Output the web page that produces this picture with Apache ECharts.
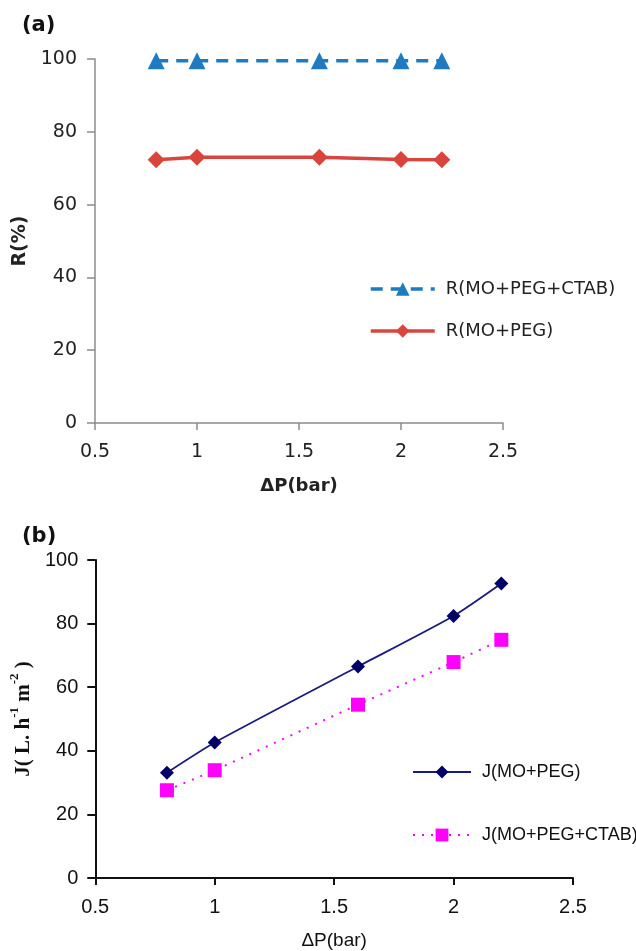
<!DOCTYPE html>
<html>
<head>
<meta charset="utf-8">
<script src="https://cdn.jsdelivr.net/npm/echarts@6/dist/echarts.min.js"></script>
<style>
  html, body { margin: 0; padding: 0; background: #fff; }
  #chart { width: 636px; height: 951px; }
</style>
</head>
<body>
<div id="chart"></div>
<script>
// pressure (bar)
const pressure = [0.8, 1, 1.6, 2, 2.2];
// (a) rejection %
const rPegCtab = [99.5, 99.5, 99.5, 99.5, 99.5];
const rPeg = [72.3, 73.0, 73.0, 72.4, 72.3];
// (b) flux
const jPeg = [33.1, 42.6, 66.5, 82.4, 92.6];
const jPegCtab = [27.6, 33.9, 54.5, 67.9, 74.9];

const pairs = (ys) => pressure.map((x, i) => [x, ys[i]]);

const fontA = '"DejaVu Sans", "Open Sans", sans-serif';
const fontB = '"Liberation Sans Narrow", "Liberation Sans", Arial, sans-serif';
const serif = '"Liberation Serif", "DejaVu Serif", serif';

const chart = echarts.init(document.getElementById('chart'));

chart.setOption({
  animation: false,
  title: [
    { text: '(a)', left: 17, top: 10, textStyle: { fontSize: 21, fontWeight: 'bold', color: '#111', fontFamily: fontA } },
    { text: '(b)', left: 17, top: 521, textStyle: { fontSize: 21, fontWeight: 'bold', color: '#111', fontFamily: fontA } },
  ],
  grid: [
    { left: 95, width: 408, top: 59, height: 364 },
    { left: 95, width: 478, top: 560, height: 318 },
  ],
  legend: [
    {
      orient: 'vertical', left: 364, top: 275, itemWidth: 64, itemHeight: 17, itemGap: 24,
      textStyle: { fontSize: 18, color: '#222', fontFamily: fontA, padding: [0, 0, 0, 6] },
      lineStyle: { width: 3.5 },
      data: ['R(MO+PEG+CTAB)', 'R(MO+PEG)'],
    },
    {
      orient: 'vertical', left: 407, top: 758, itemWidth: 58, itemHeight: 16, itemGap: 45,
      textStyle: { fontSize: 18, color: '#111', fontFamily: fontB, padding: [0, 0, 0, 6] },
      data: ['J(MO+PEG)', 'J(MO+PEG+CTAB)'],
    },
  ],
  xAxis: [
    {
      type: 'value', gridIndex: 0, min: 0.5, max: 2.5, interval: 0.5,
      name: 'ΔP(bar)', nameLocation: 'middle', nameGap: 54,
      nameTextStyle: { fontSize: 18, fontWeight: 'bold', color: '#222', fontFamily: fontA },
      axisLine: { lineStyle: { color: '#8c8c8c', width: 1.5 } },
      axisTick: { length: 7, lineStyle: { color: '#8c8c8c', width: 1.5 } },
      axisLabel: { color: '#222', fontSize: 19, fontFamily: fontA, margin: 20 },
      splitLine: { show: false },
    },
    {
      type: 'value', gridIndex: 1, min: 0.5, max: 2.5, interval: 0.5,
      name: 'ΔP(bar)', nameLocation: 'middle', nameGap: 53,
      nameTextStyle: { fontSize: 19, color: '#111', fontFamily: fontB },
      axisLine: { lineStyle: { color: '#111', width: 2 } },
      axisTick: { length: 7, lineStyle: { color: '#111', width: 2 } },
      axisLabel: { color: '#111', fontSize: 20, fontFamily: fontB, margin: 19 },
      splitLine: { show: false },
    },
  ],
  yAxis: [
    {
      type: 'value', gridIndex: 0, min: 0, max: 100, interval: 20,
      name: 'R(%)', nameLocation: 'middle', nameGap: 58,
      nameTextStyle: { fontSize: 19, fontWeight: 'bold', color: '#222', fontFamily: fontA },
      axisLine: { show: true, lineStyle: { color: '#8c8c8c', width: 1.5 } },
      axisTick: { show: true, length: 8, lineStyle: { color: '#8c8c8c', width: 1.5 } },
      axisLabel: { color: '#222', fontSize: 19, fontFamily: fontA, margin: 18 },
      splitLine: { show: false },
    },
    {
      type: 'value', gridIndex: 1, min: 0, max: 100, interval: 20,
      name: '{a|J( L. h}{s|-1}{a| m}{s|-2}{a| )}', nameLocation: 'middle', nameGap: 57,
      nameTextStyle: {
        rich: {
          a: { fontSize: 21, fontWeight: 'bold', color: '#111', fontFamily: serif, lineHeight: 26, verticalAlign: 'bottom' },
          s: { fontSize: 13, fontWeight: 'bold', color: '#111', fontFamily: serif, lineHeight: 26, verticalAlign: 'top' },
        },
      },
      axisLine: { show: true, lineStyle: { color: '#111', width: 2 } },
      axisTick: { show: true, length: 8, lineStyle: { color: '#111', width: 2 } },
      axisLabel: { color: '#111', fontSize: 20, fontFamily: fontB, margin: 17 },
      splitLine: { show: false },
    },
  ],
  series: [
    {
      name: 'R(MO+PEG+CTAB)', type: 'line', xAxisIndex: 0, yAxisIndex: 0,
      data: pairs(rPegCtab), symbol: 'triangle', symbolSize: 17,
      itemStyle: { color: '#1f7bc1' },
      lineStyle: { color: '#1f7bc1', width: 3.5, type: [12, 8] },
    },
    {
      name: 'R(MO+PEG)', type: 'line', xAxisIndex: 0, yAxisIndex: 0,
      data: pairs(rPeg), symbol: 'diamond', symbolSize: 17,
      itemStyle: { color: '#d9453d' },
      lineStyle: { color: '#d9453d', width: 3.5 },
    },
    {
      name: 'J(MO+PEG)', type: 'line', xAxisIndex: 1, yAxisIndex: 1,
      data: pairs(jPeg), symbol: 'diamond', symbolSize: 14, smooth: 0.2,
      itemStyle: { color: '#000066' },
      lineStyle: { color: '#1a1a80', width: 1.8 },
    },
    {
      name: 'J(MO+PEG+CTAB)', type: 'line', xAxisIndex: 1, yAxisIndex: 1,
      data: pairs(jPegCtab), symbol: 'rect', symbolSize: 14, smooth: 0.2,
      itemStyle: { color: '#ff00ff' },
      lineStyle: { color: '#ff00ff', width: 2, type: [2, 7] },
    },
  ],
});
</script>
</body>
</html>
